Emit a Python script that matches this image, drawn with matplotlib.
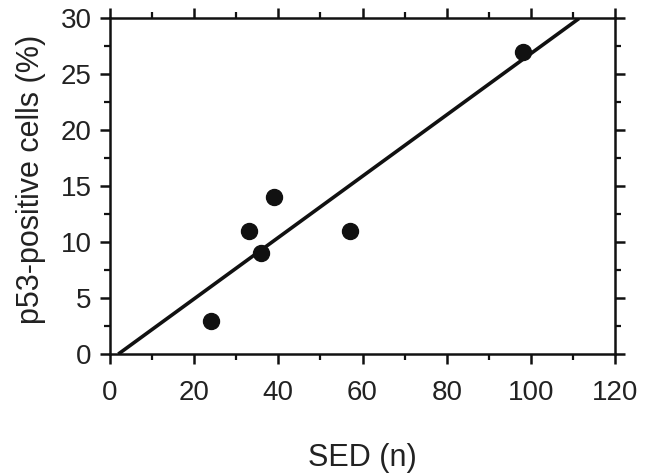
import matplotlib
matplotlib.use("Agg")
import matplotlib.pyplot as plt
from matplotlib.ticker import MultipleLocator
import numpy as np

sed = [24, 33, 36, 39, 57, 98]
p53 = [3, 11, 9, 14, 11, 27]
fit_x = [2.0, 111.4]
fit_y = [0.0, 30.0]

plt.rcParams['font.family'] = ['Liberation Sans', 'DejaVu Sans']

fig = plt.figure(figsize=(6.58, 4.74), dpi=100)
ax = fig.add_axes([0.167, 0.253, 0.768, 0.708])

ax.plot(fit_x, fit_y, color='#111111', lw=2.6, solid_capstyle='butt', zorder=2)
ax.plot(sed, p53, 'o', color='#111111', ms=11.5, zorder=3)

ax.set_xlim(0, 120)
ax.set_ylim(0, 30)
ax.xaxis.set_major_locator(MultipleLocator(20))
ax.xaxis.set_minor_locator(MultipleLocator(10))
ax.yaxis.set_major_locator(MultipleLocator(5))
ax.yaxis.set_minor_locator(MultipleLocator(2.5))

for s in ax.spines.values():
    s.set_linewidth(1.8)
    s.set_color('#111111')

ax.tick_params(which='major', direction='out', length=7, width=1.8, color='#111111',
               top=True, right=True, labeltop=False, labelright=False,
               labelsize=20, labelcolor='#222222')
ax.tick_params(axis='x', which='major', pad=12)
ax.tick_params(axis='y', which='major', pad=6)
ax.tick_params(which='minor', direction='out', length=4, width=1.6, color='#111111',
               top=True, right=True)

ax.set_xlabel('SED (n)', fontsize=22, color='#222222', labelpad=26)
ax.set_ylabel('p53-positive cells (%)', fontsize=22, color='#222222', labelpad=11)
ax.yaxis.label.set_y(0.52)

fig.savefig('out.png', dpi=100)
